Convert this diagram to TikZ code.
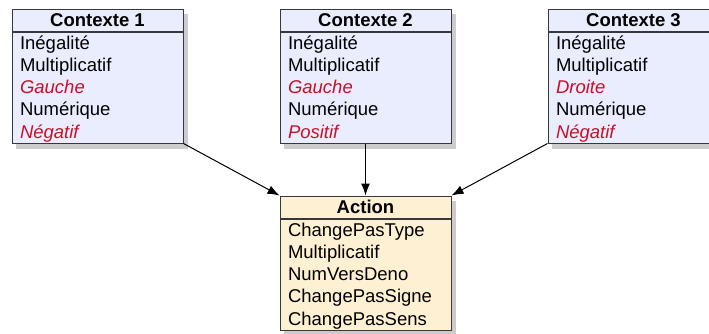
\documentclass[tikz,border=0pt]{standalone}
\usepackage{fontspec}
\setmainfont{Liberation Sans}
\usetikzlibrary{positioning,fit,shadows,backgrounds,arrows.meta}
\definecolor{ctxfill}{RGB}{234,237,253}
\definecolor{actfill}{RGB}{254,240,210}
\definecolor{ctxred}{RGB}{200,16,40}
\definecolor{edge}{RGB}{55,55,60}
\newcommand{\rowln}[1]{\rule[-5pt]{0pt}{22.2pt}#1}
\newcommand{\redln}[1]{\rowln{{\color{ctxred}\itshape #1}}}

\begin{document}
\begin{tikzpicture}[x=1pt,y=-1pt,
  hdr/.style={draw=edge, line width=1pt, minimum width=171pt, minimum height=22pt,
    inner sep=0pt, font=\fontsize{18.5}{22.2}\selectfont\bfseries},
  lst/.style={draw=edge, line width=1pt, minimum width=171pt, minimum height=111pt,
    inner xsep=8pt, inner ysep=0pt, text width=155pt, align=left,
    font=\fontsize{18.5}{22.2}\selectfont},
  shd/.style={inner sep=0pt, drop shadow={shadow xshift=4pt, shadow yshift=-5pt, opacity=0.4}},
  link/.style={line width=1pt, -{Latex[length=12pt,width=9pt]}}]
\useasboundingbox (0,0) rectangle (709,333);
\clip (0,0) rectangle (709,333);

\node[hdr, fill=ctxfill] (ctx1h) at (97.5,20) {Contexte 1};
\node[lst, fill=ctxfill, below=0pt of ctx1h] (ctx1) {\rowln{Inégalité}\\\rowln{Multiplicatif}\\\redln{Gauche}\\\rowln{Numérique}\\\redln{Négatif}};

\node[hdr, fill=ctxfill] (ctx2h) at (365.5,20) {Contexte 2};
\node[lst, fill=ctxfill, below=0pt of ctx2h] (ctx2) {\rowln{Inégalité}\\\rowln{Multiplicatif}\\\redln{Gauche}\\\rowln{Numérique}\\\redln{Positif}};

\node[hdr, fill=ctxfill] (ctx3h) at (633.5,20) {Contexte 3};
\node[lst, fill=ctxfill, below=0pt of ctx3h] (ctx3) {\rowln{Inégalité}\\\rowln{Multiplicatif}\\\redln{Droite}\\\rowln{Numérique}\\\redln{Négatif}};

\node[hdr, fill=actfill] (acth) at (365.5,207) {Action};
\node[lst, fill=actfill, below=0pt of acth] (act) {\rowln{ChangePasType}\\\rowln{Multiplicatif}\\\rowln{NumVersDeno}\\\rowln{ChangePasSigne}\\\rowln{ChangePasSens}};

\begin{scope}[on background layer]
\node[shd, fill=ctxfill, fit=(ctx1h)(ctx1)] {};
\node[shd, fill=ctxfill, fit=(ctx2h)(ctx2)] {};
\node[shd, fill=ctxfill, fit=(ctx3h)(ctx3)] {};
\node[shd, fill=actfill, fit=(acth)(act)] {};
\end{scope}

\draw[link] (ctx1.south east) -- (acth.north west);
\draw[link] (ctx2.south) -- (acth.north);
\draw[link] (ctx3.south west) -- (acth.north east);
\end{tikzpicture}
\end{document}
